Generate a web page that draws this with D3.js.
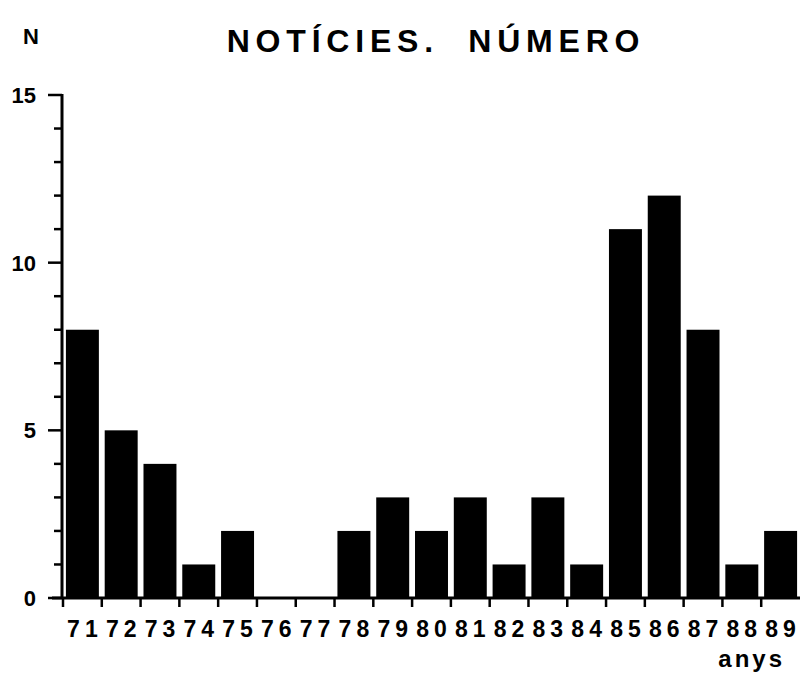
<!DOCTYPE html>
<html>
<head>
<meta charset="utf-8">
<script src="https://cdn.jsdelivr.net/npm/d3@7"></script>
<style>
  body { margin: 0; background: #fff; }
  text { font-family: "Liberation Sans", Arial, Helvetica, sans-serif; font-weight: bold; fill: #000; }
</style>
</head>
<body>
<div id="chart"></div>
<script>
const WIDTH = 801;
const HEIGHT = 679;

// data
const years = ['71','72','73','74','75','76','77','78','79','80','81','82','83','84','85','86','87','88','89'];
const counts = [8, 5, 4, 1, 2, 0, 0, 2, 3, 2, 3, 1, 3, 1, 11, 12, 8, 1, 2];
const yTicks = [0, 5, 10, 15];
const yMinor = [1, 2, 3, 4, 6, 7, 8, 9, 11, 12, 13, 14];

const svg = d3.select('#chart')
    .append('svg')
    .attr('width', WIDTH)
    .attr('height', HEIGHT)

// x: one band per year, ticks sit on the band edges
const x = d3.scaleBand()
    .domain(years)
    .range([63, 800])
    .paddingInner(0.15)
    .paddingOuter(0.075)

const y = d3.scaleLinear()
    .domain([0, 15])
    .range([598, 95])

const edge = (d) => x(d) - x.step() * x.paddingInner() / 2

// bars
svg.selectAll('rect.bar')
    .data(years)
    .enter()
    .append('rect')
    .attr('class', 'bar')
    .attr('x', (d) => x(d))
    .attr('width', x.bandwidth())
    .attr('y', (d, i) => y(counts[i]))
    .attr('height', (d, i) => y(0) - y(counts[i]))
    .attr('fill', '#000')

// y axis: line, major and minor ticks pointing left
const yAxis = svg.append('g')
yAxis.append('line')
    .attr('x1', 62).attr('x2', 62)
    .attr('y1', y(15) - 1).attr('y2', y(0) + 1)
    .attr('stroke', '#000').attr('stroke-width', 3)
yAxis.selectAll('line.major')
    .data(yTicks)
    .enter()
    .append('line')
    .attr('x1', 48).attr('x2', 62)
    .attr('y1', (d) => y(d)).attr('y2', (d) => y(d))
    .attr('stroke', '#000').attr('stroke-width', 2.5)
yAxis.selectAll('line.minor')
    .data(yMinor)
    .enter()
    .append('line')
    .attr('x1', 54).attr('x2', 62)
    .attr('y1', (d) => y(d)).attr('y2', (d) => y(d))
    .attr('stroke', '#000').attr('stroke-width', 2.5)
yAxis.selectAll('text')
    .data(yTicks)
    .enter()
    .append('text')
    .attr('x', 36)
    .attr('y', (d) => y(d) + 8)
    .attr('text-anchor', 'end')
    .style('font-size', '22px')
    .text((d) => d)

// x axis: baseline and ticks pointing down at band edges
const xAxis = svg.append('g')
xAxis.append('line')
    .attr('x1', 52).attr('x2', 800)
    .attr('y1', y(0)).attr('y2', y(0))
    .attr('stroke', '#000').attr('stroke-width', 3)
xAxis.selectAll('line.tick')
    .data(years)
    .enter()
    .append('line')
    .attr('x1', (d) => edge(d)).attr('x2', (d) => edge(d))
    .attr('y1', y(0)).attr('y2', y(0) + 9)
    .attr('stroke', '#000').attr('stroke-width', 2.5)
xAxis.selectAll('text')
    .data(years)
    .enter()
    .append('text')
    .attr('x', (d) => x(d) + x.bandwidth() / 2 + 2.5)
    .attr('y', 637)
    .attr('text-anchor', 'middle')
    .style('font-size', '23px')
    .style('letter-spacing', '5px')
    .text((d) => d)

// axis names and title
svg.append('text')
    .attr('x', 785).attr('y', 667)
    .attr('text-anchor', 'end')
    .style('font-size', '24px')
    .style('letter-spacing', '3px')
    .text('anys')

svg.append('text')
    .attr('x', 31).attr('y', 44)
    .attr('text-anchor', 'middle')
    .style('font-size', '22px')
    .text('N')

svg.append('text')
    .attr('x', 436).attr('y', 52)
    .attr('text-anchor', 'middle')
    .attr('xml:space', 'preserve')
    .style('white-space', 'pre')
    .style('font-size', '32px')
    .style('letter-spacing', '5.8px')
    .text('NOTÍCIES.  NÚMERO')
</script>
</body>
</html>
